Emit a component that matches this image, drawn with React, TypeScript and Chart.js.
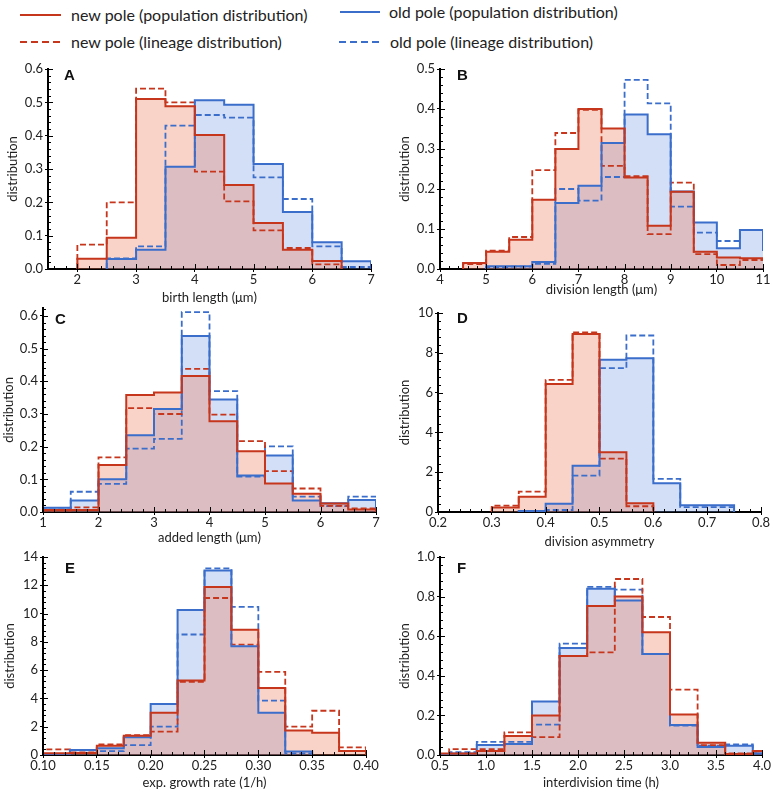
import React, { useEffect, useRef } from "react";
import { Chart, registerables } from "chart.js";

Chart.register(...registerables);

// ---------- colours ----------
const RED = "#c6361d";
const BLUE = "#3b6ecb";
const RED_FILL = "rgba(236,124,94,0.34)";
const BLUE_FILL = "rgba(110,150,225,0.30)";
const FONT = "Lato";

// ---------- legend ----------
const LEGEND_LABELS = [
  "new pole (population distribution)",
  "old pole (population distribution)",
  "new pole (lineage distribution)",
  "old pole (lineage distribution)",
];

// ---------- panel A: birth length ----------
const A_X_TICKS = [2, 3, 4, 5, 6, 7];
const A_Y_TICKS = [0, 0.1, 0.2, 0.3, 0.4, 0.5, 0.6];
const A_NEW_START = 2;
const A_OLD_START = 2.5;
const A_BIN = 0.5;
const A_NEW_POP = [0.031, 0.094, 0.51, 0.488, 0.402, 0.252, 0.138, 0.058, 0.024];
const A_NEW_LIN = [0.073, 0.2, 0.541, 0.5, 0.292, 0.203, 0.116, 0.063, 0.014];
const A_OLD_POP = [0.03, 0.058, 0.307, 0.506, 0.493, 0.315, 0.171, 0.08, 0.023];
const A_OLD_LIN = [0.032, 0.068, 0.43, 0.462, 0.454, 0.275, 0.21, 0.068, 0.006];

// ---------- panel B: division length ----------
const B_X_TICKS = [4, 5, 6, 7, 8, 9, 10, 11];
const B_Y_TICKS = [0, 0.1, 0.2, 0.3, 0.4, 0.5];
const B_NEW_START = 4.5;
const B_OLD_START = 5;
const B_BIN = 0.5;
const B_NEW_POP = [0.015, 0.043, 0.073, 0.173, 0.3, 0.4, 0.351, 0.229, 0.108, 0.193, 0.043, 0.029, 0.027, 0.02];
const B_NEW_LIN = [0.012, 0.046, 0.08, 0.247, 0.34, 0.398, 0.258, 0.232, 0.087, 0.216, 0.037, 0.01, 0.0225, 0.02];
const B_OLD_POP = [0.007, 0.007, 0.0175, 0.165, 0.208, 0.315, 0.386, 0.337, 0.194, 0.116, 0.052, 0.0975, 0.045];
const B_OLD_LIN = [0.005, 0.006, 0.013, 0.2, 0.171, 0.23, 0.473, 0.414, 0.156, 0.091, 0.07, 0.0975, 0.045];

// ---------- panel C: added length ----------
const C_X_TICKS = [1, 2, 3, 4, 5, 6, 7];
const C_Y_TICKS = [0, 0.1, 0.2, 0.3, 0.4, 0.5, 0.6];
const C_START = 1;
const C_BIN = 0.5;
const C_NEW_POP = [0.006, 0.006, 0.144, 0.358, 0.366, 0.416, 0.278, 0.186, 0.087, 0.056, 0.026, 0.008];
const C_NEW_LIN = [0.004, 0.014, 0.167, 0.318, 0.3, 0.438, 0.298, 0.217, 0.125, 0.072, 0.019, 0.011];
const C_OLD_POP = [0.013, 0.035, 0.1, 0.235, 0.315, 0.539, 0.344, 0.112, 0.173, 0.035, 0.027, 0.037];
const C_OLD_LIN = [0.008, 0.062, 0.086, 0.194, 0.224, 0.612, 0.37, 0.108, 0.201, 0.047, 0.018, 0.047];

// ---------- panel D: division asymmetry ----------
const D_X_TICKS = [0.2, 0.3, 0.4, 0.5, 0.6, 0.7, 0.8];
const D_Y_TICKS = [0, 2, 4, 6, 8, 10];
const D_NEW_START = 0.3;
const D_OLD_START = 0.35;
const D_BIN = 0.05;
const D_NEW_POP = [0.22, 0.77, 6.43, 8.94, 3.0, 0.44];
const D_NEW_LIN = [0.32, 1.02, 6.64, 9.03, 2.68, 0.29];
const D_OLD_POP = [0.05, 0.42, 2.32, 7.65, 7.73, 1.44, 0.34, 0.34];
const D_OLD_LIN = [0.03, 0.1, 1.83, 7.23, 8.87, 1.66, 0.25, 0.25];

// ---------- panel E: exp. growth rate ----------
const E_X_TICKS = [0.1, 0.15, 0.2, 0.25, 0.3, 0.35, 0.4];
const E_Y_TICKS = [0, 2, 4, 6, 8, 10, 12, 14];
const E_START = 0.1;
const E_BIN = 0.025;
const E_NEW_POP = [0.12, 0.15, 0.66, 1.36, 2.99, 5.27, 11.88, 8.85, 4.73, 1.74, 1.58, 0.28];
const E_NEW_LIN = [0.4, 0.19, 0.75, 1.41, 1.65, 5.18, 11.1, 7.81, 5.88, 2.0, 3.13, 0.54];
const E_OLD_POP = [0.07, 0.35, 0.47, 1.25, 3.6, 10.26, 13.04, 7.69, 2.99, 0.24];
const E_OLD_LIN = [0.07, 0.35, 0.28, 0.7, 2.0, 8.52, 13.2, 10.47, 3.84, 0.12];

// ---------- panel F: interdivision time ----------
const F_X_TICKS = [0.5, 1.0, 1.5, 2.0, 2.5, 3.0, 3.5, 4.0];
const F_Y_TICKS = [0, 0.2, 0.4, 0.6, 0.8, 1.0];
const F_START = 0.3;
const F_BIN = 0.3;
const F_NEW_POP = [0.008, 0.008, 0.02, 0.096, 0.2, 0.5, 0.753, 0.8, 0.62, 0.205, 0.062, 0.005, 0.02];
const F_NEW_LIN = [0.005, 0.03, 0.03, 0.114, 0.09, 0.5, 0.518, 0.889, 0.697, 0.33, 0.05, 0.008, 0.017];
const F_OLD_POP = [0.004, 0.008, 0.05, 0.056, 0.27, 0.541, 0.84, 0.78, 0.51, 0.151, 0.04, 0.047, 0.008];
const F_OLD_LIN = [0.004, 0.015, 0.066, 0.066, 0.153, 0.563, 0.849, 0.835, 0.51, 0.148, 0.047, 0.054, 0.008];

type Series = { start: number; bin: number; values: number[] };

type PanelCfg = {
  letter: string;
  xTitle: string;
  xMin: number;
  xMax: number;
  xTicks: number[];
  xDec: number;
  yMax: number;
  yTicks: number[];
  yDec: number;
  newPop: Series;
  newLin: Series;
  oldPop: Series;
  oldLin: Series;
  minorX: number;
  minorY: number;
  box: { cx: number; cy: number; cr: number; L: number; R: number; T: number; B: number; xt: number; yt: number };
  letterOff: [number, number];
};

const PANELS: PanelCfg[] = [
  {
    letter: "A", xTitle: "birth length (\u03bcm)", xMin: 1.5, xMax: 7, xTicks: A_X_TICKS, xDec: 0,
    yMax: 0.6, yTicks: A_Y_TICKS, yDec: 1,
    newPop: { start: A_NEW_START, bin: A_BIN, values: A_NEW_POP },
    newLin: { start: A_NEW_START, bin: A_BIN, values: A_NEW_LIN },
    oldPop: { start: A_OLD_START, bin: A_BIN, values: A_OLD_POP },
    oldLin: { start: A_OLD_START, bin: A_BIN, values: A_OLD_LIN },
    minorX: 0.2, minorY: 0.02,
    box: { cx: 0, cy: 59, cr: 385, L: 48, R: 371, T: 69, B: 269, xt: 298, yt: 13 },
    letterOff: [16, 10.5],
  },
  {
    letter: "B", xTitle: "division length (\u03bcm)", xMin: 4, xMax: 11, xTicks: B_X_TICKS, xDec: 0,
    yMax: 0.5, yTicks: B_Y_TICKS, yDec: 1,
    newPop: { start: B_NEW_START, bin: B_BIN, values: B_NEW_POP },
    newLin: { start: B_NEW_START, bin: B_BIN, values: B_NEW_LIN },
    oldPop: { start: B_OLD_START, bin: B_BIN, values: B_OLD_POP },
    oldLin: { start: B_OLD_START, bin: B_BIN, values: B_OLD_LIN },
    minorX: 0.2, minorY: 0.02,
    box: { cx: 388, cy: 59, cr: 774, L: 440, R: 763, T: 69, B: 269, xt: 290, yt: 405 },
    letterOff: [17, 10.5],
  },
  {
    letter: "C", xTitle: "added length (\u03bcm)", xMin: 1, xMax: 7, xTicks: C_X_TICKS, xDec: 0,
    yMax: 0.625, yTicks: C_Y_TICKS, yDec: 1,
    newPop: { start: C_START, bin: C_BIN, values: C_NEW_POP },
    newLin: { start: C_START, bin: C_BIN, values: C_NEW_LIN },
    oldPop: { start: C_START, bin: C_BIN, values: C_OLD_POP },
    oldLin: { start: C_START, bin: C_BIN, values: C_OLD_LIN },
    minorX: 0.2, minorY: 0.02,
    box: { cx: 0, cy: 298, cr: 388, L: 43, R: 376, T: 307, B: 512, xt: 538, yt: 9 },
    letterOff: [12, 15.7],
  },
  {
    letter: "D", xTitle: "division asymmetry", xMin: 0.2, xMax: 0.8, xTicks: D_X_TICKS, xDec: 1,
    yMax: 10, yTicks: D_Y_TICKS, yDec: 0,
    newPop: { start: D_NEW_START, bin: D_BIN, values: D_NEW_POP },
    newLin: { start: D_NEW_START, bin: D_BIN, values: D_NEW_LIN },
    oldPop: { start: D_OLD_START, bin: D_BIN, values: D_OLD_POP },
    oldLin: { start: D_OLD_START, bin: D_BIN, values: D_OLD_LIN },
    minorX: 0.02, minorY: 0.4,
    box: { cx: 388, cy: 298, cr: 774, L: 438, R: 761, T: 313, B: 512, xt: 541.7, yt: 405 },
    letterOff: [19, 9.7],
  },
  {
    letter: "E", xTitle: "exp. growth rate (1/h)", xMin: 0.1, xMax: 0.4, xTicks: E_X_TICKS, xDec: 2,
    yMax: 14, yTicks: E_Y_TICKS, yDec: 0,
    newPop: { start: E_START, bin: E_BIN, values: E_NEW_POP },
    newLin: { start: E_START, bin: E_BIN, values: E_NEW_LIN },
    oldPop: { start: E_START, bin: E_BIN, values: E_OLD_POP },
    oldLin: { start: E_START, bin: E_BIN, values: E_OLD_LIN },
    minorX: 0.01, minorY: 0.4,
    box: { cx: 0, cy: 545, cr: 382, L: 43, R: 366, T: 557, B: 755, xt: 783, yt: 10 },
    letterOff: [22, 15.7],
  },
  {
    letter: "F", xTitle: "interdivision time (h)", xMin: 0.5, xMax: 4.0, xTicks: F_X_TICKS, xDec: 1,
    yMax: 1.0, yTicks: F_Y_TICKS, yDec: 1,
    newPop: { start: F_START, bin: F_BIN, values: F_NEW_POP },
    newLin: { start: F_START, bin: F_BIN, values: F_NEW_LIN },
    oldPop: { start: F_START, bin: F_BIN, values: F_OLD_POP },
    oldLin: { start: F_START, bin: F_BIN, values: F_OLD_LIN },
    minorX: 0.1, minorY: 0.04,
    box: { cx: 388, cy: 545, cr: 774, L: 440, R: 762, T: 557, B: 755, xt: 783, yt: 405 },
    letterOff: [17, 15.7],
  },
];

function stepPoints(s: Series) {
  const n = s.values.length;
  const pts: { x: number; y: number }[] = [{ x: s.start, y: 0 }];
  for (let i = 0; i < n; i++) pts.push({ x: s.start + i * s.bin, y: s.values[i] });
  pts.push({ x: s.start + n * s.bin, y: s.values[n - 1] });
  pts.push({ x: s.start + n * s.bin, y: 0 });
  return pts;
}

const TITLE_SIZE = 13;
const TICK_SIZE = 13;

function buildConfig(cfg: PanelCfg): any {
  const b = cfg.box;
  const canvasBottom = Math.ceil(b.xt + 9);
  const xAxisH = canvasBottom - b.B;
  const yAxisW = b.L - b.cx;
  const titleLH = TITLE_SIZE * 1.2;
  const xTitlePad = Math.max(0, canvasBottom - b.xt - titleLH / 2);
  const yTitlePad = Math.max(0, b.yt - b.cx - titleLH / 2);

  const base = { stepped: true, pointRadius: 0, pointHoverRadius: 0, tension: 0 };
  const datasets = [
    { ...base, label: LEGEND_LABELS[0], data: stepPoints(cfg.newPop), borderColor: RED, borderWidth: 2, fill: "origin", backgroundColor: RED_FILL },
    { ...base, label: LEGEND_LABELS[1], data: stepPoints(cfg.oldPop), borderColor: BLUE, borderWidth: 2, fill: "origin", backgroundColor: BLUE_FILL },
    { ...base, label: LEGEND_LABELS[2], data: stepPoints(cfg.newLin), borderColor: RED, borderWidth: 1.8, borderDash: [6, 3], fill: false },
    { ...base, label: LEGEND_LABELS[3], data: stepPoints(cfg.oldLin), borderColor: BLUE, borderWidth: 1.8, borderDash: [6, 3], fill: false },
  ];

  const minorPlugin = {
    id: "minorTicks" + cfg.letter,
    afterDatasetsDraw(chart: any) {
      const ctx = chart.ctx;
      const { bottom, left } = chart.chartArea;
      const xs = chart.scales.x;
      const ys = chart.scales.y;
      ctx.save();
      ctx.strokeStyle = "#000";
      ctx.lineWidth = 1;
      const isMajor = (arr: number[], v: number) => arr.some((t) => Math.abs(t - v) < 1e-9);
      const n0 = Math.ceil(xs.min / cfg.minorX - 1e-9);
      const n1 = Math.floor(xs.max / cfg.minorX + 1e-9);
      for (let n = n0; n <= n1; n++) {
        const v = n * cfg.minorX;
        const px = Math.round(xs.getPixelForValue(v)) + 0.5;
        const len = isMajor(cfg.xTicks, v) ? 5 : 3;
        ctx.beginPath();
        ctx.moveTo(px, bottom);
        ctx.lineTo(px, bottom - len);
        ctx.stroke();
      }
      const m0 = Math.ceil(ys.min / cfg.minorY - 1e-9);
      const m1 = Math.floor(ys.max / cfg.minorY + 1e-9);
      for (let m = m0; m <= m1; m++) {
        const v = m * cfg.minorY;
        const py = Math.round(ys.getPixelForValue(v)) + 0.5;
        const len = isMajor(cfg.yTicks, v) ? 5 : 3;
        ctx.beginPath();
        ctx.moveTo(left, py);
        ctx.lineTo(left + len, py);
        ctx.stroke();
      }
      ctx.restore();
    },
  };

  const letterPlugin = {
    id: "panelLetter" + cfg.letter,
    afterDraw(chart: any) {
      const ctx = chart.ctx;
      const { left, top } = chart.chartArea;
      ctx.save();
      ctx.fillStyle = "#111";
      ctx.font = "bold 15px 'Liberation Sans', Arial, sans-serif";
      ctx.textBaseline = "alphabetic";
      ctx.textAlign = "left";
      ctx.fillText(cfg.letter, left + cfg.letterOff[0], top + cfg.letterOff[1]);
      ctx.restore();
    },
  };

  const tickFont = { family: FONT, size: TICK_SIZE };
  const titleFont = { family: FONT, size: TITLE_SIZE };

  return {
    type: "line",
    data: { datasets },
    options: {
      animation: false,
      responsive: false,
      devicePixelRatio: 1,
      events: [],
      layout: { padding: { left: 0, top: b.T - b.cy, right: b.cr - b.R, bottom: 0 } },
      plugins: {
        legend: { display: false },
        tooltip: { enabled: false },
        filler: { drawTime: "beforeDatasetsDraw" },
      },
      scales: {
        x: {
          type: "linear",
          min: cfg.xMin,
          max: cfg.xMax,
          afterBuildTicks: (s: any) => {
            s.ticks = cfg.xTicks.map((v) => ({ value: v }));
          },
          afterFit: (s: any) => {
            s.height = xAxisH;
          },
          ticks: {
            autoSkip: false,
            maxRotation: 0,
            padding: 0,
            color: "#222",
            font: tickFont,
            callback: (v: any) => Number(v).toFixed(cfg.xDec),
          },
          grid: { drawOnChartArea: false, drawTicks: true, tickLength: 3, color: "#000", lineWidth: 1 },
          border: { display: true, color: "#000", width: 2 },
          title: { display: true, text: cfg.xTitle, color: "#222", font: titleFont, padding: { top: 0, bottom: xTitlePad } },
        },
        y: {
          type: "linear",
          min: 0,
          max: cfg.yMax,
          afterBuildTicks: (s: any) => {
            s.ticks = cfg.yTicks.map((v) => ({ value: v }));
          },
          afterFit: (s: any) => {
            s.width = yAxisW;
          },
          ticks: {
            padding: 2,
            color: "#222",
            font: tickFont,
            callback: (v: any) => Number(v).toFixed(cfg.yDec),
          },
          grid: { drawOnChartArea: false, drawTicks: true, tickLength: 3, color: "#000", lineWidth: 1 },
          border: { display: true, color: "#000", width: 2 },
          title: { display: true, text: "distribution", color: "#222", font: titleFont, padding: { top: yTitlePad, bottom: 0 } },
        },
      },
    },
    plugins: [minorPlugin, letterPlugin],
  };
}

function Panel({ cfg }: { cfg: PanelCfg }) {
  const ref = useRef<HTMLCanvasElement | null>(null);
  useEffect(() => {
    if (!ref.current) return;
    const chart = new Chart(ref.current, buildConfig(cfg));
    return () => chart.destroy();
  }, [cfg]);
  const b = cfg.box;
  const w = b.cr - b.cx;
  const h = Math.ceil(b.xt + 9) - b.cy;
  return (
    <canvas
      ref={ref}
      width={w}
      height={h}
      style={{ position: "absolute", left: b.cx, top: b.cy, width: w, height: h }}
    />
  );
}

function LegendItem({ x, y, lineX1, lineX2, color, dashed, label }: any) {
  return (
    <>
      <svg
        width={lineX2 - lineX1}
        height={6}
        style={{ position: "absolute", left: lineX1, top: y - 3, overflow: "visible" }}
      >
        <line
          x1={0}
          y1={3}
          x2={lineX2 - lineX1}
          y2={3}
          stroke={color}
          strokeWidth={2.2}
          strokeDasharray={dashed ? "7 4" : undefined}
        />
      </svg>
      <span
        style={{
          position: "absolute",
          left: x,
          top: y - 11,
          height: 22,
          lineHeight: "22px",
          fontFamily: FONT,
          fontSize: 16,
          color: "#222",
          whiteSpace: "nowrap",
        }}
      >
        {label}
      </span>
    </>
  );
}

export default function App() {
  return (
    <div style={{ position: "absolute", left: 0, top: 0, width: 774, height: 796, background: "#fff", overflow: "hidden" }}>
      <LegendItem x={71} y={15} lineX1={20} lineX2={61} color={RED} dashed={false} label={LEGEND_LABELS[0]} />
      <LegendItem x={389} y={12} lineX1={340} lineX2={380} color={BLUE} dashed={false} label={LEGEND_LABELS[1]} />
      <LegendItem x={71} y={42} lineX1={20} lineX2={61} color={RED} dashed={true} label={LEGEND_LABELS[2]} />
      <LegendItem x={390} y={42} lineX1={339} lineX2={379} color={BLUE} dashed={true} label={LEGEND_LABELS[3]} />
      {PANELS.map((p) => (
        <Panel key={p.letter} cfg={p} />
      ))}
    </div>
  );
}
